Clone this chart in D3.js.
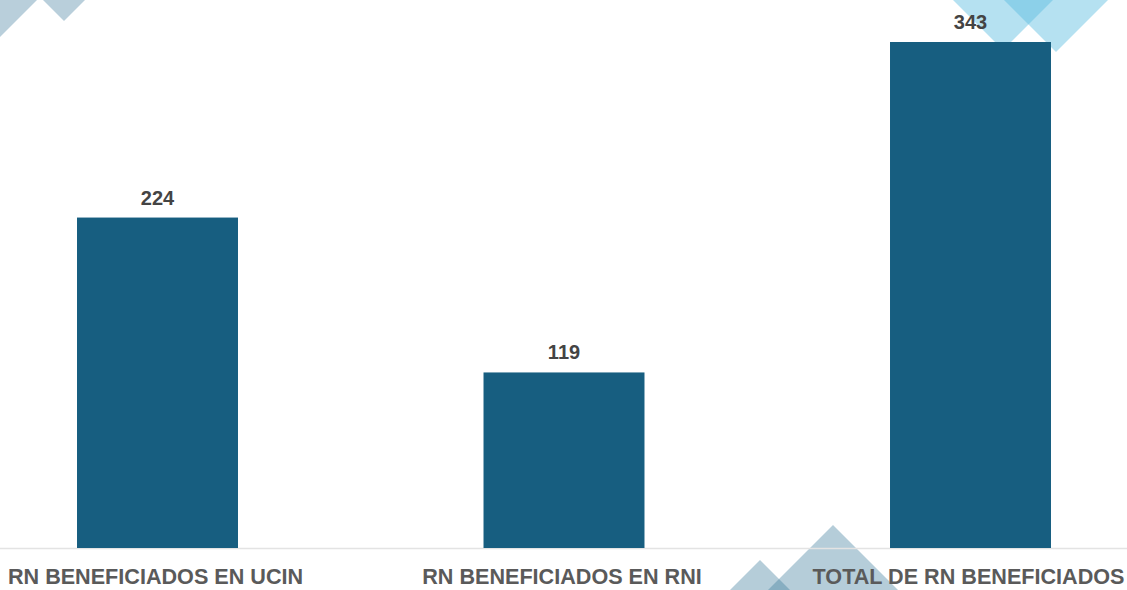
<!DOCTYPE html>
<html lang="es">
  <head>
    <meta charset="UTF-8" />
    <script src="https://d3js.org/d3.v7.min.js"></script>
    <title>RN beneficiados</title>
    <style>
      body { margin: 0; background: #fff; }
    </style>
  </head>
  <body>
    <div id="chart-container"></div>

    <script>
      // data
      const categories = [
        "RN BENEFICIADOS EN UCIN",
        "RN BENEFICIADOS EN RNI",
        "TOTAL DE RN BENEFICIADOS",
      ];
      const values = [224, 119, 343];

      const W = 1127, H = 590;
      const baseY = 548;

      const svg = d3
        .select("#chart-container")
        .append("svg")
        .attr("width", W)
        .attr("height", H);

      // background decoration (rotated squares peeking in)
      const deco = svg.append("g");
      const tri = (cx, cy, h, dir) =>
        `M${cx - h},${cy} L${cx + h},${cy} L${cx},${cy + dir * h} Z`;
      // top left, pointing down
      deco.append("path").attr("d", tri(0, 0, 37, 1)).attr("fill", "#b9cfdb");
      deco.append("path").attr("d", tri(64, 0, 21, 1)).attr("fill", "#b9cfdb");
      // top right, light blue
      deco.append("path").attr("d", tri(1003, 0, 50, 1))
        .attr("fill", "#5bbde0").attr("fill-opacity", 0.45);
      deco.append("path").attr("d", tri(1056, 0, 52, 1))
        .attr("fill", "#5bbde0").attr("fill-opacity", 0.45);
      // bottom, pointing up
      deco.append("path").attr("d", tri(760, 590, 30, -1))
        .attr("fill", "#3c7b9b").attr("fill-opacity", 0.38);
      deco.append("path").attr("d", tri(833, 590, 65, -1))
        .attr("fill", "#3c7b9b").attr("fill-opacity", 0.38);

      const x = d3
        .scaleBand()
        .domain(categories)
        .range([-45.75, 1173.75])
        .paddingInner(0.604)
        .paddingOuter(0.302);

      const y = d3
        .scaleLinear()
        .domain([0, 343])
        .range([baseY, 42]);

      // baseline
      svg
        .append("line")
        .attr("x1", 0)
        .attr("x2", W)
        .attr("y1", baseY + 0.5)
        .attr("y2", baseY + 0.5)
        .attr("stroke", "#e3e3e3")
        .attr("stroke-width", 1.5);

      // bars
      svg
        .selectAll(".bar")
        .data(values)
        .join("rect")
        .attr("class", "bar")
        .attr("x", (d, i) => x(categories[i]))
        .attr("y", (d) => y(d))
        .attr("width", x.bandwidth())
        .attr("height", (d) => y(0) - y(d))
        .attr("fill", "#175e80");

      // value labels
      svg
        .selectAll(".val")
        .data(values)
        .join("text")
        .attr("class", "val")
        .attr("x", (d, i) => x(categories[i]) + x.bandwidth() / 2)
        .attr("y", (d) => y(d) - 13)
        .attr("text-anchor", "middle")
        .style("font-family", '"Liberation Sans", Arial, sans-serif')
        .style("font-weight", "700")
        .style("font-size", "20px")
        .style("fill", "#444")
        .text((d) => d);

      // category axis
      svg
        .append("g")
        .attr("transform", "translate(-2," + baseY + ")")
        .call(d3.axisBottom(x).tickSize(0).tickPadding(21))
        .call((g) => g.select(".domain").remove())
        .selectAll("text")
        .style("font-family", '"Liberation Sans", Arial, sans-serif')
        .style("font-weight", "700")
        .style("font-size", "21.6px")
        .style("fill", "#5a5a5a");
    </script>
  </body>
</html>
